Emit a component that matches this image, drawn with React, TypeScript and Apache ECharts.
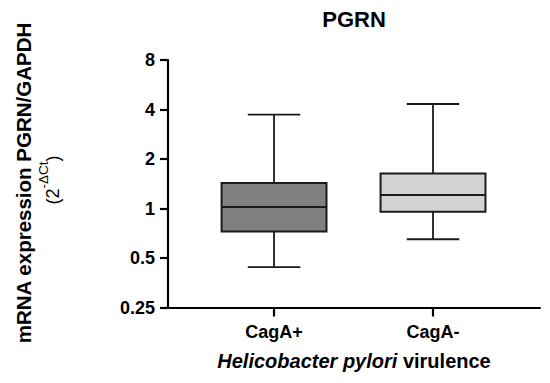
import React, { useEffect, useRef } from "react";
import * as echarts from "echarts";

const categories = ["CagA+", "CagA-"];
const categoryPositions = [1, 2];
// [min, Q1, median, Q3, max]
const cagaPlus = [0.44, 0.725, 1.02, 1.43, 3.72];
const cagaMinus = [0.65, 0.955, 1.21, 1.63, 4.32];
const boxColors = ["#808080", "#d3d3d3"];
const yTickLabels = ["0.25", "0.5", "1", "2", "4", "8"];

const FONT = "'Liberation Sans', Arial, Helvetica, sans-serif";

export default function App() {
  const ref = useRef<HTMLDivElement>(null);
  useEffect(() => {
    if (!ref.current) return;
    const chart = echarts.init(ref.current, null, { renderer: "svg" });
    const seriesData = [
      [categoryPositions[0], ...cagaPlus],
      [categoryPositions[1], ...cagaMinus],
    ];
    const stroke = "#1a1a1a";
    const option: any = {
      animation: false,
      backgroundColor: "#ffffff",
      title: {
        text: "PGRN",
        left: 354,
        top: 8,
        padding: 0,
        textAlign: "center",
        textStyle: { fontFamily: FONT, fontSize: 22, fontWeight: "bold", color: "#000" },
      },
      grid: { left: 168, right: 10, top: 60, bottom: 75.5, containLabel: false },
      xAxis: {
        type: "value",
        min: 0.333,
        max: 2.673,
        splitLine: { show: false },
        axisLine: { show: true, onZero: false, lineStyle: { color: "#000", width: 2.2 } },
        axisTick: { show: true, length: 9, customValues: categoryPositions, lineStyle: { color: "#000", width: 2.2 } },
        axisLabel: {
          show: true,
          customValues: categoryPositions,
          margin: 15,
          fontFamily: FONT,
          fontSize: 18,
          fontWeight: "bold",
          color: "#000",
          formatter: (v: number) => {
            const i = categoryPositions.indexOf(Math.round(v));
            return i >= 0 ? categories[i] : "";
          },
        },
        name: "{i|Helicobacter pylori} {n|virulence}",
        nameLocation: "middle",
        nameGap: 43,
        nameTextStyle: {
          fontFamily: FONT,
          fontSize: 20,
          fontWeight: "bold",
          color: "#000",
          rich: {
            i: { fontFamily: FONT, fontSize: 20, fontWeight: "bold", fontStyle: "italic", color: "#000" },
            n: { fontFamily: FONT, fontSize: 20, fontWeight: "bold", color: "#000" },
          },
        },
      },
      yAxis: {
        type: "log",
        logBase: 2,
        min: 0.25,
        max: 8,
        splitNumber: 5,
        splitLine: { show: false },
        axisLine: { show: true, lineStyle: { color: "#000", width: 2.2 } },
        axisTick: { show: true, length: 8, lineStyle: { color: "#000", width: 2.2 } },
        axisLabel: {
          margin: 13,
          fontFamily: FONT,
          fontSize: 18,
          fontWeight: "bold",
          color: "#000",
          formatter: (v: number) => {
            const s = String(Number(v.toPrecision(6)));
            return yTickLabels.indexOf(s) >= 0 ? s : s;
          },
        },
      },
      graphic: [
        {
          type: "text",
          x: 23,
          y: 183,
          rotation: Math.PI / 2,
          style: {
            text: "mRNA expression PGRN/GAPDH",
            fontFamily: FONT,
            fontSize: 20.5,
            fontWeight: "bold",
            fill: "#000",
            align: "center",
            verticalAlign: "middle",
          },
        },
        {
          type: "text",
          x: 53,
          y: 180,
          rotation: Math.PI / 2,
          style: {
            text: "{m|(2}{s|-ΔCt}{m|)}",
            fontFamily: FONT,
            fill: "#000",
            align: "center",
            verticalAlign: "middle",
            rich: {
              m: { fontFamily: FONT, fontSize: 18, fill: "#000" },
              s: { fontFamily: FONT, fontSize: 13.5, fill: "#000", padding: [0, 0, 20, 0] },
            },
          },
        },
      ],
      series: [
        {
          type: "custom",
          data: seriesData,
          encode: { x: 0, y: [1, 2, 3, 4, 5] },
          renderItem: (params: any, api: any) => {
            const x = api.value(0);
            const lo = api.coord([x, api.value(1)]);
            const q1 = api.coord([x, api.value(2)]);
            const med = api.coord([x, api.value(3)]);
            const q3 = api.coord([x, api.value(4)]);
            const hi = api.coord([x, api.value(5)]);
            const unit = api.coord([x + 1, api.value(3)])[0] - med[0];
            const bw = unit * 0.66;
            const cw = unit * 0.33;
            const cx = med[0];
            const ls = { stroke, lineWidth: 1.8 };
            return {
              type: "group",
              children: [
                { type: "line", shape: { x1: cx, y1: hi[1], x2: cx, y2: q3[1] }, style: ls },
                { type: "line", shape: { x1: cx, y1: q1[1], x2: cx, y2: lo[1] }, style: ls },
                { type: "line", shape: { x1: cx - cw / 2, y1: hi[1], x2: cx + cw / 2, y2: hi[1] }, style: ls },
                { type: "line", shape: { x1: cx - cw / 2, y1: lo[1], x2: cx + cw / 2, y2: lo[1] }, style: ls },
                {
                  type: "rect",
                  shape: { x: cx - bw / 2, y: q3[1], width: bw, height: q1[1] - q3[1] },
                  style: { fill: boxColors[params.dataIndex], stroke, lineWidth: 2 },
                },
                { type: "line", shape: { x1: cx - bw / 2, y1: med[1], x2: cx + bw / 2, y2: med[1] }, style: { stroke, lineWidth: 2 } },
              ],
            };
          },
        },
      ],
    };
    chart.setOption(option);
    return () => chart.dispose();
  }, []);
  return <div ref={ref} style={{ width: 550, height: 383, margin: -8 }} />;
}
